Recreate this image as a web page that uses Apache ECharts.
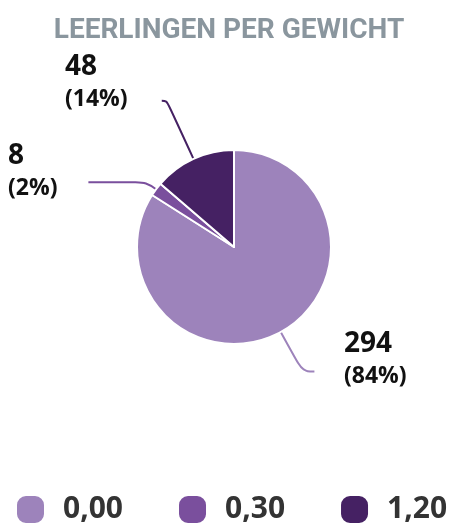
<!DOCTYPE html>
<html lang="nl">
<head>
    <meta charset="UTF-8">
    <title>Leerlingen per gewicht</title>
    <script src="https://cdn.jsdelivr.net/npm/echarts@6/dist/echarts.min.js"></script>
    <style>
        body { margin: 0; background: #fff; }
        #main { width: 458px; height: 527px; }
    </style>
</head>
<body>
    <div id="main"></div>
    <script type="text/javascript">
        // data
        const categories = ['0,00', '0,30', '1,20'];
        const counts = [294, 8, 48];
        const colors = ['#9d83bb', '#7a4f9d', '#452163'];
        // label line lengths per slice [length, length2]
        const lineLengths = [[45, 12], [12, 58], [64, 5]];
        // where each outside label goes (left/top of text block)
        const labelSpots = [[344, 327], [8, 139], [65, 50]];

        // rounded square used as legend marker
        const softSquare = 'path://M10,0H19A10,10 0 0 1 29,10V19A10,10 0 0 1 19,29H10A10,10 0 0 1 0,19V10A10,10 0 0 1 10,0Z';

        let myChart = echarts.init(document.getElementById('main'));

        let options = {
            title: {
                text: 'LEERLINGEN PER GEWICHT',
                left: 'center',
                top: 12,
                textStyle: { fontFamily: 'Roboto', fontWeight: 'bold', fontSize: 28, color: '#8a969e' }
            },
            legend: {
                left: 15,
                bottom: 2,
                width: 450,
                padding: 0,
                itemWidth: 29,
                itemHeight: 29,
                itemGap: 54,
                icon: softSquare,
                textStyle: { fontFamily: 'Open Sans', fontWeight: 'bold', fontSize: 30, color: '#333', padding: [0, 0, 0, 13] }
            },
            series: [{
                type: 'pie',
                center: [234, 247],
                radius: 97,
                startAngle: 90,
                percentPrecision: 0,
                avoidLabelOverlap: false,
                itemStyle: { borderColor: '#fff', borderWidth: 2 },
                label: {
                    formatter: '{v|{c}}\n{p|({d}%)}',
                    rich: {
                        v: { fontFamily: 'Open Sans', fontWeight: 'bold', fontSize: 28, lineHeight: 34, color: '#111' },
                        p: { fontFamily: 'Open Sans', fontWeight: 'bold', fontSize: 23, lineHeight: 30, color: '#111' }
                    }
                },
                labelLine: { smooth: 0.4, lineStyle: { width: 2 } },
                labelLayout: (params) => ({
                    x: labelSpots[params.dataIndex][0],
                    y: labelSpots[params.dataIndex][1],
                    align: 'left',
                    verticalAlign: 'top',
                    labelLinePoints: params.labelLinePoints
                }),
                data: categories.map((name, i) => ({
                    name: name,
                    value: counts[i],
                    itemStyle: { color: colors[i] },
                    labelLine: { length: lineLengths[i][0], length2: lineLengths[i][1] }
                }))
            }]
        };
        myChart.setOption(options);
    </script>
</body>
</html>
